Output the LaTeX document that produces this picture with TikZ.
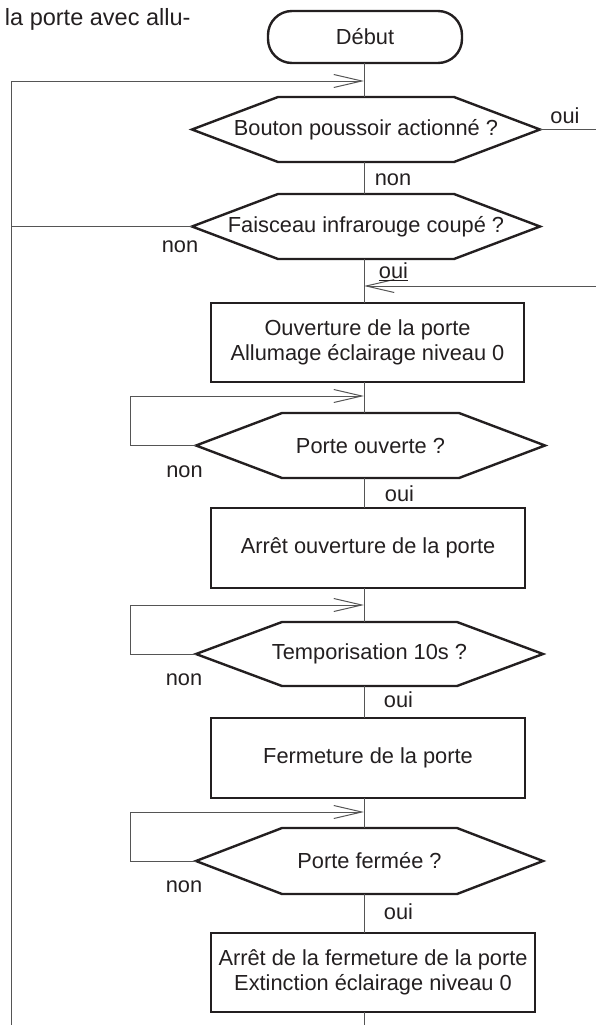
\documentclass[tikz,border=0pt]{standalone}
\usepackage{fontspec}
\setmainfont{Liberation Sans}
\usetikzlibrary{arrows.meta}
\definecolor{ink}{HTML}{231F20}
\definecolor{wiregray}{HTML}{555555}
\begin{document}
\begin{tikzpicture}[x=1pt,y=-1pt,
  font=\fontsize{21.8}{25}\selectfont, text=ink,
  boxnode/.style={draw=ink, line width=2.4pt, rectangle, align=center, inner sep=0pt, outer sep=0pt},
  hexnode/.style={rectangle, inner sep=0pt, outer sep=0pt, minimum width=348pt, minimum height=65pt},
  hexline/.style={draw=ink, line width=2.4pt, line join=miter},
  wire/.style={draw=wiregray, line width=1pt},
  flow/.style={wire, -{Straight Barb[length=28pt,width=13pt]}},
  lbl/.style={inner sep=0pt, outer sep=0pt}
]
\useasboundingbox (0,0) rectangle (596,1025);
\coordinate (spine) at (364,0);

% top fragment of text
\node[lbl, anchor=west, font=\fontsize{23.5}{27}\selectfont] (frag) at (5,19) {la porte avec allu-};

% nodes
\node[boxnode, rounded corners=24pt, minimum width=194pt, minimum height=52pt] (start) at (365,37) {Début};
\node[hexnode] (d1) at (366,129.5) {Bouton poussoir actionné ?};
\node[hexnode] (d2) at (366,226.5) {Faisceau infrarouge coupé ?};
\node[boxnode, minimum width=313pt, minimum height=79pt] (b1) at (367.5,342.5) {Ouverture de la porte\\Allumage éclairage niveau 0};
\node[hexnode, minimum width=349pt] (d3) at (370.5,445.5) {Porte ouverte ?};
\node[boxnode, minimum width=314pt, minimum height=80pt] (b2) at (368,548) {Arrêt ouverture de la porte};
\node[hexnode, minimum width=347pt, minimum height=64pt] (d4) at (369.5,654) {Temporisation 10s ?};
\node[boxnode, minimum width=314pt, minimum height=80pt] (b3) at (368,758) {Fermeture de la porte};
\node[hexnode, minimum width=347pt, minimum height=66pt] (d5) at (369.5,861) {Porte fermée ?};
\node[boxnode, minimum width=324pt, minimum height=79pt] (b4) at (373,972.5) {Arrêt de la fermeture de la porte\\Extinction éclairage niveau 0};

% hexagon outlines
\foreach \n in {d1,d2,d3,d4,d5}{
  \draw[hexline] (\n.west) -- ([xshift=86pt]\n.north west) -- ([xshift=-86pt]\n.north east)
    -- (\n.east) -- ([xshift=-86pt]\n.south east) -- ([xshift=86pt]\n.south west) -- cycle;
}

% free ends
\coordinate (bigtop) at (11,81);
\coordinate (bigbot) at (11,1025);
\coordinate (rout) at (596,129.5);
\coordinate (rin) at (596,286);
\coordinate (endb) at (364,1025);
\coordinate (c3) at (130,396);
\coordinate (c4) at (130,605);
\coordinate (c5) at (130,812);

% main spine
\draw[wire] (spine |- start.south) -- (spine |- d1.north);
\draw[wire] (spine |- d1.south) -- (spine |- d2.north);
\draw[wire] (spine |- d2.south) -- (spine |- b1.north);
\draw[wire] (spine |- b1.south) -- (spine |- d3.north);
\draw[wire] (spine |- d3.south) -- (spine |- b2.north);
\draw[wire] (spine |- b2.south) -- (spine |- d4.north);
\draw[wire] (spine |- d4.south) -- (spine |- b3.north);
\draw[wire] (spine |- b3.south) -- (spine |- d5.north);
\draw[wire] (spine |- d5.south) -- (spine |- b4.north);
\draw[wire] (spine |- b4.south) -- (endb);

% big loop
\draw[flow] (bigbot) -- (bigtop) -- (spine |- bigtop);
\draw[wire] (d2.west) -- (d2.west -| bigtop);

% right branch
\draw[wire] (d1.east) -- (rout);
\draw[flow] (rin) -- (spine |- rin);

% small loops
\draw[flow] (d3.west) -| (c3) -- (spine |- c3);
\draw[flow] (d4.west) -| (c4) -- (spine |- c4);
\draw[flow] (d5.west) -| (c5) -- (spine |- c5);

% labels
\node[lbl] (l1) at (565,116) {oui};
\node[lbl] (l2) at (393,180) {non};
\node[lbl] (l3) at (180,247) {non};
\node[lbl] (l4) at (393.5,272) {\underline{oui}};
\node[lbl] (l5) at (184.5,472) {non};
\node[lbl] (l6) at (399.5,494) {oui};
\node[lbl] (l7) at (184,680) {non};
\node[lbl] (l8) at (398.5,700) {oui};
\node[lbl] (l9) at (184,887) {non};
\node[lbl] (l10) at (398.5,912) {oui};
\end{tikzpicture}
\end{document}
